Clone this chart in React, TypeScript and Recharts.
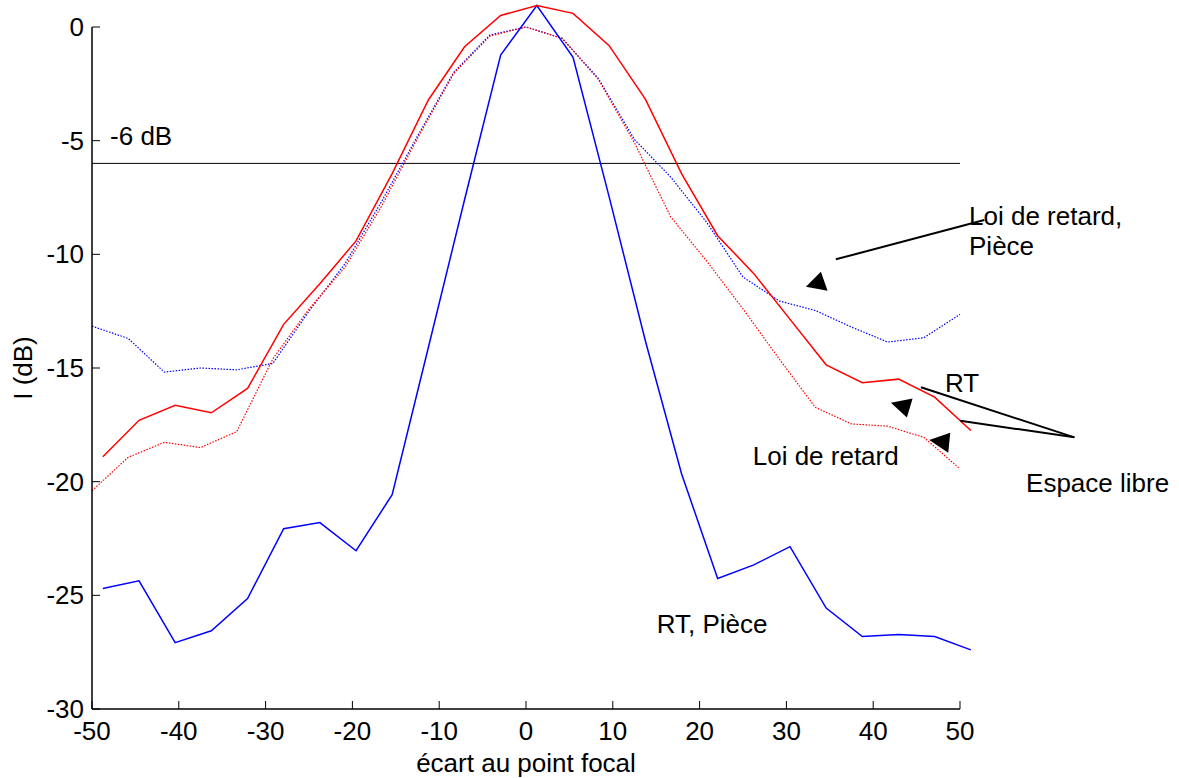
import React from 'react';
import { LineChart, Line, XAxis, YAxis, ReferenceLine, ReferenceDot } from 'recharts';

// abscisses des deux grilles d'échantillonnage
const xSolid = [-48.75, -44.58, -40.42, -36.25, -32.08, -27.92, -23.75, -19.58, -15.42, -11.25, -7.08, -2.92, 1.25, 5.42, 9.58, 13.75, 17.92, 22.08, 26.25, 30.42, 34.58, 38.75, 42.92, 47.08, 51.25];
const xDotted = [-50, -45.83, -41.67, -37.5, -33.33, -29.17, -25, -20.83, -16.67, -12.5, -8.33, -4.17, 0, 4.17, 8.33, 12.5, 16.67, 20.83, 25, 29.17, 33.33, 37.5, 41.67, 45.83, 50];

// RT, Pièce (bleu plein)
const rtPiece = [-24.7, -24.36, -27.08, -26.56, -25.14, -22.07, -21.8, -23.04, -20.57, -14.1, -7.6, -1.23, 0.94, -1.33, -7.47, -13.8, -19.65, -24.26, -23.66, -22.86, -25.56, -26.81, -26.72, -26.81, -27.4];
// RT, Espace libre (rouge plein)
const rtLibre = [-18.9, -17.3, -16.64, -16.97, -15.9, -13.08, -11.29, -9.41, -6.45, -3.21, -0.87, 0.51, 0.94, 0.6, -0.82, -3.17, -6.45, -9.18, -10.85, -12.86, -14.86, -15.65, -15.49, -16.28, -17.75];
// Loi de retard, Pièce (bleu pointillé)
const loiPiece = [-13.16, -13.7, -15.18, -15.0, -15.08, -14.8, -12.5, -10.4, -7.7, -4.8, -2.0, -0.35, 0.0, -0.5, -2.26, -4.95, -6.6, -8.6, -11.0, -12.05, -12.47, -13.2, -13.86, -13.67, -12.64];
// Loi de retard, Espace libre (rouge pointillé)
const loiLibre = [-20.4, -18.93, -18.27, -18.5, -17.8, -14.6, -12.4, -10.56, -7.9, -4.9, -2.05, -0.4, 0.0, -0.5, -2.3, -5.1, -8.35, -10.3, -12.4, -14.6, -16.73, -17.46, -17.56, -18.05, -19.44];

const xTicks = [-50, -40, -30, -20, -10, 0, 10, 20, 30, 40, 50];
const yTicks = [-30, -25, -20, -15, -10, -5, 0];

// annotations (coordonnées en unités du graphique)
const notes = [
  { x: -47.92, y: -5.19, text: '-6 dB' },
  { x: 51.04, y: -8.71, text: 'Loi de retard,' },
  { x: 51.04, y: -10.03, text: 'Pièce' },
  { x: 48.27, y: -16.06, text: 'RT' },
  { x: 26.12, y: -19.27, text: 'Loi de retard' },
  { x: 57.61, y: -20.46, text: 'Espace libre' },
  { x: 15.05, y: -26.66, text: 'RT, Pièce' },
];
const pointers = [
  [{ x: 35.7, y: -10.22 }, { x: 52.8, y: -8.49 }],
  [{ x: 45.5, y: -15.85 }, { x: 63.18, y: -18.05 }],
  [{ x: 50.03, y: -17.32 }, { x: 63.18, y: -18.05 }],
];
const arrowHeads = [
  { x: 33.65, y: -11.26, pts: [[-12.2, 3.7], [2.8, -11.3], [9.5, 7.7]] },
  { x: 43.49, y: -16.68, pts: [[-12.6, -3.4], [9.1, -7.8], [3.4, 11.2]] },
  { x: 47.99, y: -18.25, pts: [[-13.3, -1.8], [7.7, -9.1], [5.7, 10.9]] },
];

const toPoints = (xs: number[], ys: number[]) => xs.map((x, i) => ({ x, y: ys[i] }));

const FONT = '"Liberation Sans", Arial, sans-serif';
const FS = 26;
const TICK = 8;

const LeftTick = (p: any) => (
  <g>
    <line x1={p.x} y1={p.y} x2={p.x + TICK} y2={p.y} stroke="#000" strokeWidth={1} />
    <text x={p.x - 8} y={p.y + 9} textAnchor="end" fontSize={FS} fontFamily={FONT} fill="#000">{p.payload.value}</text>
  </g>
);
const BottomTick = (p: any) => (
  <g>
    <line x1={p.x} y1={p.y} x2={p.x} y2={p.y - TICK} stroke="#000" strokeWidth={1} />
    <text x={p.x} y={p.y + 31} textAnchor="middle" fontSize={FS} fontFamily={FONT} fill="#000">{p.payload.value}</text>
  </g>
);
const TopTick = (p: any) => <line x1={p.x} y1={p.y} x2={p.x} y2={p.y + TICK} stroke="#000" strokeWidth={1} />;
const RightTick = (p: any) => <line x1={p.x} y1={p.y} x2={p.x - TICK} y2={p.y} stroke="#000" strokeWidth={1} />;

export default function App() {
  return (
    <div style={{ position: 'absolute', left: 0, top: 0, width: 1179, height: 778, background: '#fff' }}>
      <style>{'.recharts-surface [clip-path]{clip-path:none !important;}'}</style>
      <LineChart width={1179} height={778} margin={{ top: 27, right: 219, bottom: 0, left: 0 }}>
        <XAxis
          dataKey="x" type="number" domain={[-50, 50]} allowDataOverflow ticks={xTicks}
          height={69} tickSize={0} tickMargin={0} tickLine={false} tick={BottomTick}
          axisLine={{ stroke: '#000', strokeWidth: 1.5 }}
          label={{ value: 'écart au point focal', position: 'insideBottom', offset: 6, fill: '#000', fontSize: FS, fontFamily: FONT }}
        />
        <XAxis
          xAxisId="top" orientation="top" dataKey="x" type="number" domain={[-50, 50]} allowDataOverflow ticks={xTicks}
          height={0} tickSize={0} tickMargin={0} tickLine={false} tick={TopTick}
          axisLine={{ stroke: '#000', strokeWidth: 1.5 }}
        />
        <YAxis
          type="number" domain={[-30, 0]} allowDataOverflow ticks={yTicks}
          width={92} tickSize={0} tickMargin={0} tickLine={false} tick={LeftTick}
          axisLine={{ stroke: '#000', strokeWidth: 1.5 }}
          label={{
            content: ({ viewBox }: any) => {
              const cx = viewBox.x + 32;
              const cy = viewBox.y + viewBox.height / 2;
              return (
                <text x={cx} y={cy} transform={`rotate(-90, ${cx}, ${cy})`} textAnchor="middle" fontSize={FS} fontFamily={FONT} fill="#000">
                  I (dB)
                </text>
              );
            },
          }}
        />
        <YAxis
          yAxisId="right" orientation="right" type="number" domain={[-30, 0]} allowDataOverflow ticks={yTicks}
          width={0} tickSize={0} tickMargin={0} tickLine={false} tick={RightTick}
          axisLine={{ stroke: '#000', strokeWidth: 1.5 }}
        />

        <ReferenceLine y={-6} stroke="#000" strokeWidth={1} />

        <Line data={toPoints(xDotted, loiPiece)} dataKey="y" stroke="#0000ff" strokeWidth={1.2} strokeDasharray="1.5 1.5" dot={false} isAnimationActive={false} />
        <Line data={toPoints(xDotted, loiLibre)} dataKey="y" stroke="#ff0000" strokeWidth={1.2} strokeDasharray="1.5 1.5" dot={false} isAnimationActive={false} />
        <Line data={toPoints(xSolid, rtPiece)} dataKey="y" stroke="#0000ff" strokeWidth={1.5} dot={false} isAnimationActive={false} />
        <Line data={toPoints(xSolid, rtLibre)} dataKey="y" stroke="#ff0000" strokeWidth={1.5} dot={false} isAnimationActive={false} />

        {pointers.map((seg, i) => (
          <ReferenceLine key={`p${i}`} segment={seg} stroke="#000" strokeWidth={2} ifOverflow="visible" />
        ))}
        {arrowHeads.map((a, i) => (
          <ReferenceDot
            key={`a${i}`} x={a.x} y={a.y} r={1} ifOverflow="visible"
            shape={(p: any) => (
              <polygon points={a.pts.map(([dx, dy]) => `${p.cx + dx},${p.cy + dy}`).join(' ')} fill="#000" />
            )}
          />
        ))}
        {notes.map((n, i) => (
          <ReferenceDot
            key={`n${i}`} x={n.x} y={n.y} r={1} ifOverflow="visible"
            shape={(p: any) => (
              <text x={p.cx} y={p.cy} fontSize={FS} fontFamily={FONT} fill="#000">{n.text}</text>
            )}
          />
        ))}
      </LineChart>
    </div>
  );
}
